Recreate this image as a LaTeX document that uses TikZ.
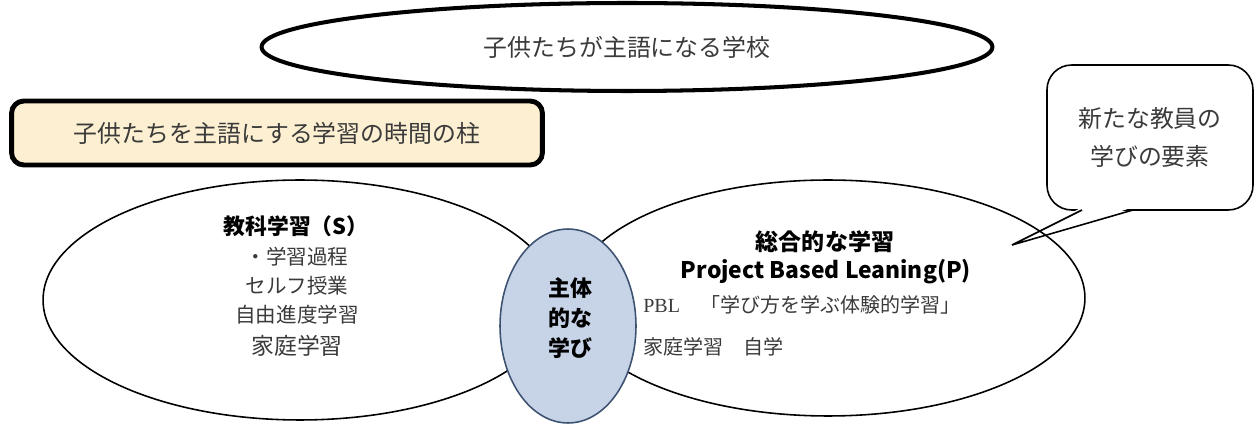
\documentclass[tikz,border=0pt]{standalone}
\usepackage{fontspec}
\setmainfont{Noto Sans CJK JP}
\newfontfamily\latinserif{Liberation Serif}
\usepackage{tikz}
\usetikzlibrary{positioning, shapes.geometric}

\definecolor{creamfill}{HTML}{FDF0D2}
\definecolor{corefill}{HTML}{C7D4E8}
\definecolor{coreline}{HTML}{3E5371}
\definecolor{textgray}{HTML}{3A3A3A}

\begin{document}
\begin{tikzpicture}[
  x=0.02cm, y=-0.02cm,
  ring/.style={draw, ellipse, inner sep=0pt, line width=0.9pt},
  thickring/.style={draw, ellipse, inner sep=0pt, line width=2.3pt},
  pillarbox/.style={draw, line width=2.8pt, rounded corners=7pt, fill=creamfill, inner sep=0pt},
  bubble/.style={draw, line width=0.9pt, rounded corners=14pt, align=center, inner sep=0pt},
  corering/.style={draw=coreline, fill=corefill, ellipse, line width=0.9pt, inner sep=0pt},
  bigtxt/.style={inner sep=0pt, text=textgray, font=\fontsize{13.6pt}{21.6pt}\selectfont},
  item/.style={inner sep=0pt, text=textgray, font=\fontsize{11.7pt}{14pt}\selectfont},
  small/.style={inner sep=0pt, text=textgray, font=\fontsize{11.4pt}{13pt}\selectfont},
  head/.style={inner sep=0pt, font=\fontsize{12.4pt}{15pt}\selectfont\bfseries},
  corelabel/.style={inner sep=0pt, align=center, font=\fontsize{12.5pt}{17pt}\selectfont\bfseries}
]
\useasboundingbox (0,0) rectangle (1255,425);

% School ellipse
\node[thickring, bigtxt, minimum width=14.62cm, minimum height=1.76cm] (school) at (627,47) {子供たちが主語になる学校};

% Pillar box
\node[pillarbox, bigtxt, minimum width=10.62cm, minimum height=1.28cm] (pillar) at (277,133) {子供たちを主語にする学習の時間の柱};

% Speech bubble
\node[bubble, bigtxt, minimum width=4.12cm, minimum height=2.9cm] (bubble) at (1150,137.5) {新たな教員の\\学びの要素};
\coordinate (tailA) at (1082,210);
\coordinate (tailB) at (1133,210);
\coordinate (tailtip) at (1012,245);
\fill[white] ([yshift=1.5pt]tailA) -- (tailtip) -- ([yshift=1.5pt]tailB) -- cycle;
\draw[line width=0.9pt] (tailA) -- (tailtip) -- (tailB);

% Subject learning (S) and project learning (P)
\node[ring, minimum width=10.28cm, minimum height=4.8cm] (subj) at (300,300) {};
\node[ring, minimum width=10.28cm, minimum height=4.72cm] (proj) at (828,298) {};

% Core ellipse
\node[corering, minimum width=2.72cm, minimum height=3.88cm] (core) at (568,326) {};
\node[corelabel] (coretxt) at (570,318) {主体\\的な\\学び};

% Left texts
\node[head] (stitle) at (296,226) {教科学習（S）};
\node[item] (s1) at (297,257) {・学習過程};
\node[item] (s2) at (297,286) {セルフ授業};
\node[item] (s3) at (297,315) {自由進度学習};
\node[item, font=\fontsize{13pt}{15pt}\selectfont] (s4) at (297,346) {家庭学習};

% Right texts
\node[head, font=\fontsize{13.1pt}{15pt}\selectfont\bfseries] (ptitle) at (825,242) {総合的な学習};
\node[head, font=\fontsize{13pt}{15pt}\selectfont\bfseries] (pbl) at (826,272) {Project Based Leaning(P)};
\node[small, anchor=west] (p1) at (643,305) {{\latinserif PBL}　「学び方を学ぶ体験的学習」};
\node[small, anchor=west] (p2) at (643,347) {家庭学習　自学};

\end{tikzpicture}
\end{document}
